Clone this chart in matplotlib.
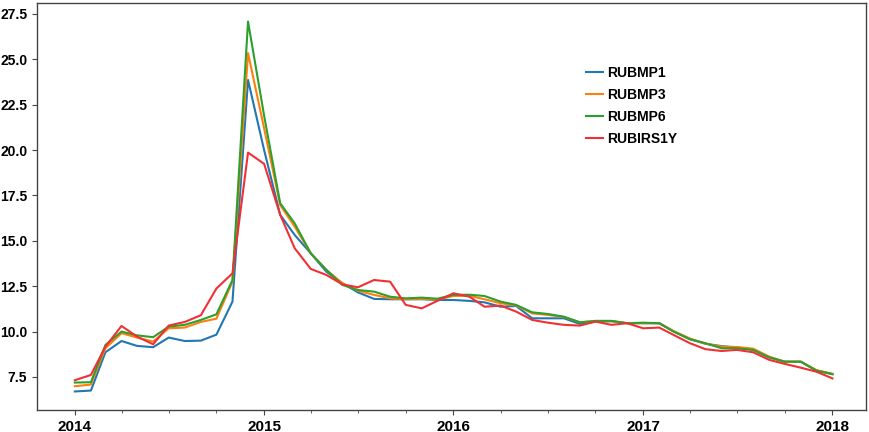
import matplotlib
matplotlib.use("Agg")
import matplotlib.pyplot as plt
import matplotlib.dates as mdates
import pandas as pd

# Monthly observations, Jan 2014 .. Jan 2018
dates = pd.date_range("2014-01-01", "2018-01-01", freq="MS")

rubmp1 = [6.70, 6.75, 8.86, 9.48, 9.21, 9.14, 9.67, 9.48, 9.50, 9.83, 11.65, 23.86,
          20.00, 16.43, 15.32, 14.31, 13.30, 12.66, 12.16, 11.80, 11.78, 11.78, 11.78, 11.74,
          11.74, 11.69, 11.61, 11.37, 11.41, 10.73, 10.73, 10.73, 10.42, 10.55, 10.57, 10.46,
          10.46, 10.46, 10.00, 9.58, 9.33, 9.20, 9.12, 9.00, 8.58, 8.34, 8.34, 7.85, 7.66]
rubmp3 = [6.99, 7.08, 9.08, 9.91, 9.67, 9.45, 10.18, 10.22, 10.53, 10.71, 12.75, 25.34,
          21.20, 16.97, 15.78, 14.31, 13.40, 12.66, 12.25, 12.02, 11.83, 11.78, 11.80, 11.76,
          11.96, 11.97, 11.78, 11.56, 11.44, 11.00, 10.92, 10.80, 10.51, 10.57, 10.57, 10.46,
          10.46, 10.46, 10.02, 9.62, 9.33, 9.17, 9.15, 9.06, 8.62, 8.34, 8.34, 7.88, 7.67]
rubmp6 = [7.19, 7.21, 9.26, 10.00, 9.79, 9.69, 10.27, 10.37, 10.64, 10.95, 12.84, 27.08,
          21.90, 17.07, 15.96, 14.31, 13.40, 12.57, 12.29, 12.20, 11.92, 11.83, 11.87, 11.81,
          12.02, 12.03, 11.96, 11.65, 11.47, 11.06, 10.97, 10.82, 10.51, 10.59, 10.59, 10.46,
          10.49, 10.46, 10.00, 9.58, 9.36, 9.08, 9.08, 8.99, 8.58, 8.34, 8.34, 7.85, 7.65]
rubirs1y = [7.32, 7.61, 9.17, 10.31, 9.72, 9.30, 10.33, 10.53, 10.90, 12.37, 13.21, 19.86,
            19.24, 16.43, 14.59, 13.45, 13.12, 12.60, 12.44, 12.84, 12.75, 11.47, 11.28, 11.69,
            12.11, 11.92, 11.37, 11.43, 11.10, 10.64, 10.49, 10.37, 10.33, 10.55, 10.37, 10.46,
            10.18, 10.22, 9.81, 9.36, 9.03, 8.93, 8.99, 8.86, 8.44, 8.22, 8.01, 7.79, 7.42]

series = [("RUBMP1", rubmp1, "#1f77b4"),
          ("RUBMP3", rubmp3, "#ff7f0e"),
          ("RUBMP6", rubmp6, "#2ca02c"),
          ("RUBIRS1Y", rubirs1y, "#f03035")]

fig = plt.figure(figsize=(8.7, 4.32), dpi=100)
ax = fig.add_axes([0.0425, 0.051, 0.9525, 0.942])

for name, vals, color in series:
    ax.plot(dates, vals, color=color, lw=1.5, label=name)

ax.set_xlim(dates[0] - pd.Timedelta(days=73), dates[-1] + pd.Timedelta(days=64))
ax.xaxis.set_major_locator(mdates.YearLocator())
ax.xaxis.set_major_formatter(mdates.DateFormatter("%Y"))
ax.xaxis.set_minor_locator(mdates.MonthLocator(bymonth=[1, 4, 7, 10]))
ax.set_yticks([7.5, 10.0, 12.5, 15.0, 17.5, 20.0, 22.5, 25.0, 27.5])

for lbl in ax.get_xticklabels() + ax.get_yticklabels():
    lbl.set_fontfamily("Liberation Sans")
    lbl.set_fontweight("bold")
for lbl in ax.get_xticklabels():
    lbl.set_fontsize(11)
for lbl in ax.get_yticklabels():
    lbl.set_fontsize(10)

for sp in ax.spines.values():
    sp.set_color("#444444")
    sp.set_linewidth(1.0)
ax.tick_params(axis="both", which="major", length=3.5, color="#444444")
ax.tick_params(axis="x", which="minor", length=2, color="#444444")

ax.legend(loc="upper left", bbox_to_anchor=(0.647, 0.877), frameon=False,
          prop={"family": "Liberation Sans", "weight": "bold", "size": 10},
          handlelength=1.22, handletextpad=0.36, labelspacing=0.58, borderpad=0.4)

fig.savefig("out.png", dpi=100)
